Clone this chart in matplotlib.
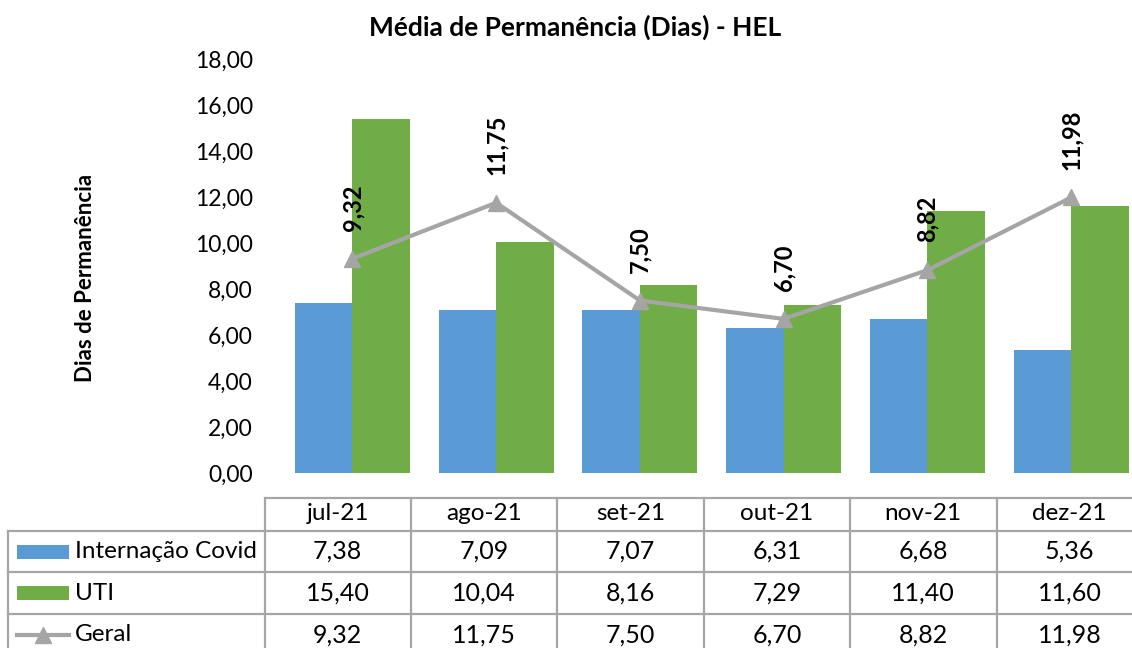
import numpy as np
import matplotlib
matplotlib.use("Agg")
import matplotlib.pyplot as plt

# dados do gráfico
meses = ["jul-21", "ago-21", "set-21", "out-21", "nov-21", "dez-21"]
internacao_covid = [7.38, 7.09, 7.07, 6.31, 6.68, 5.36]
uti = [15.40, 10.04, 8.16, 7.29, 11.40, 11.60]
geral = [9.32, 11.75, 7.50, 6.70, 8.82, 11.98]
series_names = ["Internação Covid", "UTI", "Geral"]

AZUL = "#5B9BD5"
VERDE = "#70AD47"
CINZA = "#A5A5A5"
BORDA = "#A6A6A6"
FONTE = "Lato"

W, H = 1132, 648


def br(v):
    return f"{v:.2f}".replace(".", ",")


plt.rcParams["font.family"] = [FONTE, "DejaVu Sans"]

fig = plt.figure(figsize=(W / 100, H / 100), dpi=100)

# área do gráfico (em pixels)
px_left, px_right, px_top, px_bottom = 280.6, 1143.0, 59.0, 473.0
ax = fig.add_axes([px_left / W, 1 - px_bottom / H,
                   (px_right - px_left) / W, (px_bottom - px_top) / H])

x = np.arange(len(meses))
bw = 0.4
ax.bar(x - bw / 2, internacao_covid, bw, color=AZUL, zorder=2)
ax.bar(x + bw / 2, uti, bw, color=VERDE, zorder=2)
ax.plot(x, geral, color=CINZA, lw=3, marker="^", ms=12, zorder=3)

for xi, v in zip(x, geral):
    ax.annotate(br(v), (xi, v), xytext=(0, 20), textcoords="offset points",
                rotation=90, ha="center", va="bottom", fontsize=17,
                fontweight="bold", color="black")

ax.set_xlim(-0.5, len(meses) - 0.5)
ax.set_ylim(0, 18)
ax.set_yticks(np.arange(0, 19, 2))
ax.set_yticklabels([br(t) for t in np.arange(0, 19, 2)], fontsize=16.5)
ax.set_xticks([])
ax.tick_params(axis="y", length=0, pad=20)
for s in ax.spines.values():
    s.set_visible(False)
ax.patch.set_alpha(0)

fig.text(575 / W, 1 - 27 / H, "Média de Permanência (Dias) - HEL",
         ha="center", va="center", fontsize=19, fontweight="bold")
fig.text(85 / W, 1 - 278 / H, "Dias de Permanência", rotation=90,
         ha="center", va="center", fontsize=16, fontweight="bold")

# tabela de dados
tb = fig.add_axes([0, 0, 1, 1])
tb.set_xlim(0, W)
tb.set_ylim(H, 0)
tb.axis("off")
tb.patch.set_alpha(0)

col0, col_w = 264.5, 146.4
lab_left = 8.0
rows_y = [498.3, 530.7, 572.3, 614.0, 655.7]
ncol = len(meses)
col_edges = [col0 + i * col_w for i in range(ncol + 1)]
lw_b = 1.6

# linhas horizontais
tb.plot([col0, col_edges[-1]], [rows_y[0]] * 2, color=BORDA, lw=lw_b)
for y in rows_y[1:]:
    tb.plot([lab_left, col_edges[-1]], [y, y], color=BORDA, lw=lw_b)
# linhas verticais
tb.plot([lab_left, lab_left], [rows_y[1], rows_y[-1]], color=BORDA, lw=lw_b)
for xe in col_edges:
    tb.plot([xe, xe], [rows_y[0], rows_y[-1]], color=BORDA, lw=lw_b)

for i, m in enumerate(meses):
    cx = col0 + (i + 0.5) * col_w
    tb.text(cx, (rows_y[0] + rows_y[1]) / 2 - 1, m, ha="center", va="center",
            fontsize=17.5)
    for r, serie in enumerate([internacao_covid, uti, geral]):
        cy = (rows_y[r + 1] + rows_y[r + 2]) / 2
        tb.text(cx, cy, br(serie[i]), ha="center", va="center", fontsize=18)

# legenda nas linhas
for r, nome in enumerate(series_names):
    cy = (rows_y[r + 1] + rows_y[r + 2]) / 2
    if r < 2:
        tb.add_patch(plt.Rectangle((17, cy - 7), 52, 14,
                                   color=[AZUL, VERDE][r], lw=0))
    else:
        tb.plot([17, 69], [cy, cy], color=CINZA, lw=3)
        tb.plot([43], [cy], marker="^", color=CINZA, ms=12)
    tb.text(75, cy, nome, ha="left", va="center", fontsize=17.5)

fig.savefig("out.png", dpi=100)
